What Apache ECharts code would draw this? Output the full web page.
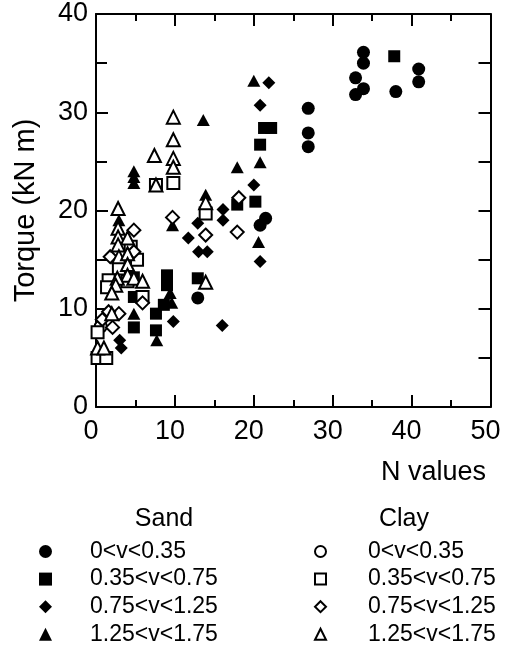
<!DOCTYPE html>
<html>
<head>
<meta charset="utf-8">
<script src="https://cdn.jsdelivr.net/npm/echarts@6/dist/echarts.min.js"></script>
<style>
  html, body { margin: 0; padding: 0; background: #fff; }
  #chart { width: 519px; height: 648px; }
</style>
</head>
<body>
<div id="chart"></div>
<script>
// velocity classes (legend labels)
const classLabels = ['0<v<0.35', '0.35<v<0.75', '0.75<v<1.25', '1.25<v<1.75'];

// Sand: [N value, torque kN m]
const sandCircle = [
  [33.9, 36.1], [33.9, 35.0], [32.9, 33.5], [33.9, 32.4], [32.9, 31.8],
  [38.0, 32.1], [40.9, 34.4], [40.9, 33.1], [26.9, 30.4], [26.9, 27.9],
  [26.9, 26.5], [21.5, 19.2], [20.8, 18.5], [12.9, 11.1]
];
const sandSquare = [
  [37.8, 35.7], [21.3, 28.4], [22.2, 28.4], [20.8, 26.7], [20.2, 20.9],
  [17.9, 20.6], [12.9, 13.1], [9.0, 13.4], [9.0, 12.4], [8.6, 10.4],
  [4.8, 13.2], [4.8, 11.2], [4.8, 8.1], [7.6, 9.5], [7.6, 7.8]
];
const sandDiamond = [
  [21.9, 33.0], [20.8, 30.7], [20.0, 22.6], [16.1, 20.1], [16.1, 19.0],
  [12.9, 18.7], [11.7, 17.2], [13.0, 15.8], [14.1, 15.8], [20.8, 14.8],
  [16.0, 8.3], [9.8, 8.7], [3.0, 6.8], [3.2, 6.0]
];
const sandTriangle = [
  [20.0, 33.2], [13.6, 29.2], [17.9, 24.4], [20.8, 24.9], [13.9, 21.6],
  [20.6, 16.8], [4.8, 24.0], [4.8, 23.4], [4.8, 22.8], [2.9, 19.0],
  [9.7, 18.5], [9.4, 11.6], [9.6, 10.6], [4.8, 9.5], [7.7, 6.8]
];

// Clay
const clayCircle = [
  [0.6, 8.2]
];
const claySquare = [
  [9.8, 22.8], [7.6, 22.6], [13.9, 19.7], [0.2, 7.6], [0.2, 5.0],
  [1.3, 5.0], [4.4, 16.3], [5.2, 15.0], [2.9, 14.1], [1.6, 12.9],
  [1.4, 12.2], [4.0, 12.8], [5.9, 11.2]
];
const clayDiamond = [
  [9.7, 19.3], [18.1, 21.3], [13.9, 17.5], [17.9, 17.8], [4.8, 18.0],
  [1.8, 15.3], [4.8, 15.8], [5.9, 10.6], [2.9, 9.5], [0.8, 8.9],
  [2.1, 8.1], [1.6, 9.7]
];
const clayTriangle = [
  [9.8, 29.5], [9.8, 27.2], [9.8, 25.3], [9.8, 24.4], [7.4, 25.6],
  [7.6, 22.6], [13.9, 20.8], [13.9, 12.7], [2.8, 20.2], [2.8, 18.2],
  [2.8, 17.3], [4.0, 17.2], [2.8, 16.5], [2.9, 15.3], [4.0, 15.6],
  [4.0, 14.5], [4.0, 13.4], [2.7, 13.1], [4.8, 13.1], [5.9, 12.8],
  [2.5, 12.4], [2.0, 11.6], [2.0, 9.5], [0.2, 6.0], [1.0, 6.0]
];

const FONT = '"Liberation Sans", Arial, Helvetica, sans-serif';

const chart = echarts.init(document.getElementById('chart'));

// 坐标轴公共样式
const axisLine = { show: true, onZero: false, lineStyle: { color: '#000', width: 2 } };
const tickStyle = { color: '#000', width: 2 };

const sandSeries = (name, symbol, size, data) => ({
  name: 'Sand: ' + name,
  type: 'scatter',
  symbol: symbol,
  symbolSize: size,
  data: data,
  itemStyle: { color: '#000', opacity: 1 },
  emphasis: { disabled: true }
});

const claySeries = (name, symbol, size, data) => ({
  name: 'Clay: ' + name,
  type: 'scatter',
  symbol: symbol,
  symbolSize: size,
  data: data,
  itemStyle: { color: '#000', borderColor: '#000', borderWidth: 1.5, opacity: 1 },
  emphasis: { disabled: true }
});

// legend text: drop the soil prefix, push text right with an empty spacer
const legendText = gap => ({
  color: '#000',
  fontSize: 23,
  fontFamily: FONT,
  lineHeight: 20,
  rich: {
    g: { width: gap, lineHeight: 20 },
    t: { color: '#000', fontSize: 23, fontFamily: FONT, lineHeight: 20 }
  }
});
const legendFormatter = name => '{g|}{t|' + name.split(': ')[1] + '}';

// horizontal legend kept narrow so every item goes on its own row
const legendBlock = (soil, left, size, gap) => ({
  data: classLabels.map(l => soil + ': ' + l),
  formatter: legendFormatter,
  orient: 'horizontal',
  left: left,
  top: 540,
  width: 60,
  padding: 0,
  itemWidth: size,
  itemHeight: size,
  itemGap: 4.6,
  selectedMode: false,
  textStyle: legendText(gap)
});

const option = {
  backgroundColor: '#fff',
  animation: false,
  grid: {
    left: 96,
    right: 28.5,
    top: 14,
    bottom: 241,
    containLabel: false,
    outerBoundsMode: 'none'
  },
  xAxis: [
    {
      type: 'value',
      min: 0,
      max: 50,
      interval: 10,
      position: 'bottom',
      axisLine: axisLine,
      axisTick: { show: true, inside: true, length: 12, lineStyle: tickStyle },
      minorTick: { show: true, splitNumber: 2, length: 7, lineStyle: tickStyle },
      axisLabel: { color: '#000', fontSize: 27, fontFamily: FONT, margin: 11, padding: [0, 10, 0, 0] },
      splitLine: { show: false },
      minorSplitLine: { show: false }
    },
    {
      type: 'value',
      min: 0,
      max: 50,
      interval: 10,
      position: 'top',
      axisLine: axisLine,
      axisTick: { show: true, inside: true, length: 12, lineStyle: tickStyle },
      minorTick: { show: true, splitNumber: 2, length: 7, lineStyle: tickStyle },
      axisLabel: { show: false },
      splitLine: { show: false }
    }
  ],
  yAxis: [
    {
      type: 'value',
      min: 0,
      max: 40,
      interval: 10,
      position: 'left',
      name: 'Torque (kN m)',
      nameLocation: 'middle',
      nameGap: 56,
      nameTextStyle: { color: '#000', fontSize: 29, fontFamily: FONT },
      axisLine: axisLine,
      axisTick: { show: true, inside: true, length: 12, lineStyle: tickStyle },
      minorTick: { show: true, splitNumber: 2, length: 11, lineStyle: tickStyle },
      axisLabel: { color: '#000', fontSize: 27, fontFamily: FONT, margin: 8 },
      splitLine: { show: false }
    },
    {
      type: 'value',
      min: 0,
      max: 40,
      interval: 10,
      position: 'right',
      axisLine: axisLine,
      axisTick: { show: true, inside: true, length: 12, lineStyle: tickStyle },
      minorTick: { show: true, splitNumber: 2, length: 12, lineStyle: tickStyle },
      axisLabel: { show: false },
      splitLine: { show: false }
    }
  ],
  legend: [
    legendBlock('Sand', 39, 13, 33),
    legendBlock('Clay', 314, 11, 37)
  ],
  graphic: [
    {
      type: 'text',
      x: 486,
      y: 473,
      style: { text: 'N values', font: '27px ' + FONT, fill: '#000', textAlign: 'right', textVerticalAlign: 'middle' }
    },
    {
      type: 'text',
      x: 164,
      y: 519,
      style: { text: 'Sand', font: '25px ' + FONT, fill: '#000', textAlign: 'center', textVerticalAlign: 'middle' }
    },
    {
      type: 'text',
      x: 404,
      y: 519,
      style: { text: 'Clay', font: '25px ' + FONT, fill: '#000', textAlign: 'center', textVerticalAlign: 'middle' }
    }
  ],
  series: [
    sandSeries(classLabels[0], 'circle', 13, sandCircle),
    sandSeries(classLabels[1], 'rect', 12, sandSquare),
    sandSeries(classLabels[2], 'diamond', 13, sandDiamond),
    sandSeries(classLabels[3], 'triangle', [13, 12], sandTriangle),
    claySeries(classLabels[0], 'emptyCircle', 12, clayCircle),
    claySeries(classLabels[1], 'emptyRect', 12, claySquare),
    claySeries(classLabels[2], 'emptyDiamond', 13, clayDiamond),
    claySeries(classLabels[3], 'emptyTriangle', 13, clayTriangle)
  ]
};

chart.setOption(option);
</script>
</body>
</html>
